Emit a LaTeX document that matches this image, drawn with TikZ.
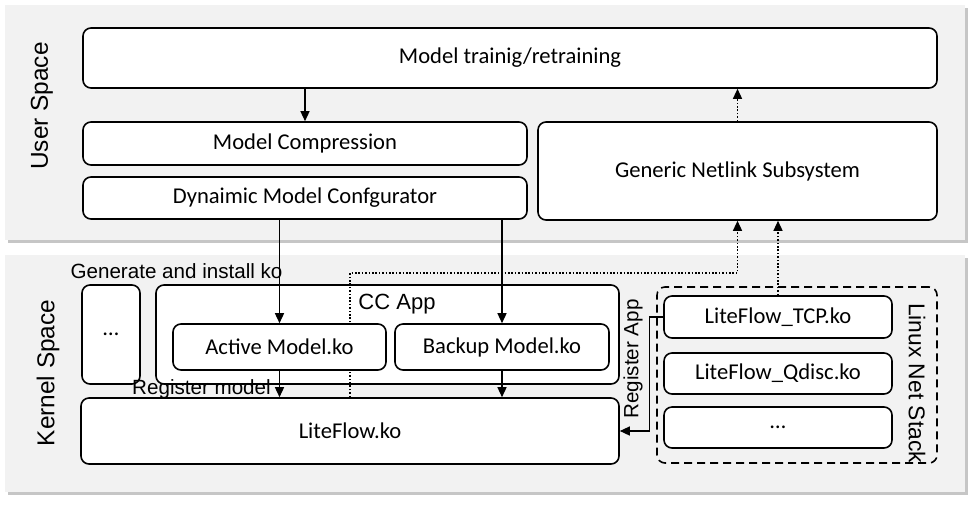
\documentclass[tikz,border=0pt]{standalone}
\usepackage{fontspec}
\setmainfont{Carlito}
\newfontfamily\arialfont{Liberation Sans}
\usetikzlibrary{shadows}
\usetikzlibrary{arrows.meta}

\tikzset{
  panel/.style={fill=black!5, draw=none, drop shadow={shadow xshift=1.5pt, shadow yshift=-1.5pt, opacity=0.45}},
  box/.style={draw, line width=0.8pt, rounded corners=4pt, fill=white, inner sep=0pt, font=\fontsize{11.3}{13}\selectfont},
  lbl/.style={font=\arialfont\fontsize{10.3}{12}\selectfont, inner sep=0pt},
  biglbl/.style={font=\arialfont\fontsize{12.2}{14}\selectfont, inner sep=0pt},
  flow/.style={->, line width=0.7pt},
  netmsg/.style={->, line width=0.7pt, dash pattern=on 0.8pt off 0.9pt},
}

\begin{document}
\begin{tikzpicture}[x=0.5pt, y=-0.5pt, >={Triangle[length=5pt,width=4.5pt]}]
  \useasboundingbox (0,0) rectangle (977,504);

  % User space
  \fill[panel] (5,5) rectangle (965,240);
  \node[biglbl, rotate=90] (userlbl) at (42,106) {User Space};
  \node[box, minimum width=427pt, minimum height=30pt] (train) at (510,58) {Model trainig/retraining};
  \node[box, minimum width=222pt, minimum height=21.5pt] (compress) at (305,143.5) {Model Compression};
  \node[box, minimum width=222pt, minimum height=21pt] (config) at (305,198) {Dynaimic Model Confgurator};
  \node[box, minimum width=199.5pt, minimum height=49pt] (netlink) at (737.5,171) {Generic Netlink Subsystem};
  \draw[flow] (train.south -| compress.north) -- (compress.north);
  \draw[netmsg] (netlink.north) -- (netlink.north |- train.south);

  % Kernel space
  \fill[panel] (5,255) rectangle (965,492);
  \node[biglbl, rotate=90] (kernellbl) at (48,373) {Kernel Space};
  \node[lbl] (genlbl) at (176.5,271) {Generate and install ko};
  \node[box, minimum width=29pt, minimum height=49.5pt] (more) at (111,334.5) {…};
  \node[box, minimum width=231.5pt, minimum height=49.5pt] (ccapp) at (387.5,334.5) {};
  \node[font=\arialfont\fontsize{11}{13}\selectfont, inner sep=0pt] (cclbl) at (397,304) {CC App};
  \node[box, minimum width=269pt, minimum height=33pt] (liteflow) at (350,431) {LiteFlow.ko};
  \coordinate (genline) at (0,273);
  \draw[netmsg] (liteflow.north) |- (genline -| netlink.south) -- (netlink.south);
  \node[box, minimum width=106.5pt, minimum height=23pt] (active) at (279.5,347) {Active Model.ko};
  \node[box, minimum width=107pt, minimum height=23pt] (backup) at (502,347) {Backup Model.ko};
  \node[lbl] (reglbl) at (201.5,389) {Register model};
  \draw[flow] (config.south -| active.north) -- (active.north);
  \draw[flow] (config.south -| backup.north) -- (backup.north);
  \draw[flow] (active.south) -- (active.south |- liteflow.north);
  \draw[flow] (backup.south) -- (backup.south |- liteflow.north);

  % Linux net stack
  \node[draw, line width=0.8pt, rounded corners=4pt, dash pattern=on 4pt off 2.5pt,
        minimum width=140pt, minimum height=88pt] (netstack) at (797,375) {};
  \node[font=\arialfont\fontsize{11.4}{13}\selectfont, inner sep=0pt, rotate=-90] (stacklbl) at (917,383) {Linux Net Stack};
  \node[box, minimum width=114pt, minimum height=21pt] (tcp) at (778,317) {LiteFlow\_TCP.ko};
  \node[box, minimum width=114pt, minimum height=20.5pt] (qdisc) at (778,373.5) {LiteFlow\_Qdisc.ko};
  \node[box, minimum width=114pt, minimum height=20.5pt] (stackmore) at (778,427.5) {…};
  \draw[netmsg] (tcp.north) -- (tcp.north |- netlink.south);
  \draw[flow] (tcp.west) -- ++(-14,0) |- (liteflow.east);
  \node[lbl, rotate=90] (applbl) at (633,359) {Register App};
\end{tikzpicture}
\end{document}
